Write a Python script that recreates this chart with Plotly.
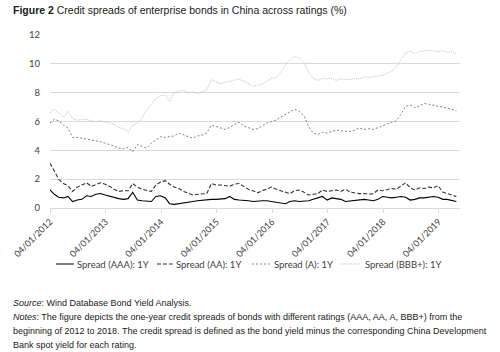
import plotly.graph_objects as go
import pandas as pd

# Monthly observations, Jan 2012 - May 2019 (first point 4 Jan 2012)
dates = ["2012-01-04"] + [d.strftime("%Y-%m-%d") for d in pd.date_range("2012-02-01", periods=88, freq="MS")]

spread_aaa = [
    1.25, 0.95, 0.75, 0.7, 0.8, 0.45, 0.55, 0.6, 0.85, 0.8, 0.95, 1.0,
    0.9, 0.8, 0.7, 0.65, 0.6, 0.65, 1.1, 0.55, 0.5, 0.5, 0.45, 0.8,
    0.85, 0.7, 0.3, 0.25, 0.3, 0.4, 0.4, 0.45, 0.5, 0.55, 0.55, 0.6,
    0.6, 0.6, 0.65, 0.8, 0.6, 0.55, 0.55, 0.5, 0.45, 0.5, 0.5, 0.5,
    0.45, 0.4, 0.35, 0.3, 0.45, 0.5, 0.45, 0.45, 0.5, 0.6, 0.7, 0.8,
    0.55, 0.7, 0.65, 0.6, 0.45, 0.5, 0.55, 0.6, 0.6, 0.55, 0.5, 0.6,
    0.8, 0.75, 0.7, 0.75, 0.8, 0.75, 0.55, 0.6, 0.7, 0.7, 0.75, 0.8,
    0.75, 0.6, 0.6, 0.5, 0.45,
]
spread_aa = [
    3.1, 2.6, 2.0, 1.7, 1.55, 1.15, 1.45, 1.6, 1.75, 1.5, 1.6, 1.75,
    1.65, 1.5, 1.3, 1.15, 1.2, 1.2, 1.7, 1.45, 1.3, 1.25, 1.15, 1.6,
    1.8, 1.9, 1.65, 1.45, 1.35, 1.15, 1.05, 0.9, 0.95, 1.0, 1.0, 1.7,
    1.6, 1.6, 1.55, 1.5, 1.65, 1.7, 1.5, 1.3, 1.2, 1.05, 1.2, 1.35,
    1.45, 1.3, 1.2, 1.05, 1.0, 1.2, 1.25, 1.1, 0.9, 0.95, 1.0, 1.25,
    1.15, 1.2, 1.25, 1.15, 1.3, 1.1, 1.05, 1.0, 1.0, 0.95, 1.0, 1.25,
    1.2, 1.3, 1.35, 1.3, 1.5, 1.75, 1.4, 1.25, 1.4, 1.35, 1.45, 1.4,
    1.55, 1.1, 1.0, 0.9, 0.8,
]
spread_a = [
    5.9, 6.15, 6.05, 5.75, 5.55, 4.9, 4.9, 4.85, 4.8, 4.7, 4.65, 4.6,
    4.5, 4.4, 4.3, 4.15, 4.1, 4.2, 3.9, 4.4, 4.3, 4.15, 4.5, 4.7,
    4.95, 4.9, 4.95, 5.0, 5.2, 5.05, 4.95, 4.85, 5.0, 5.05, 5.2, 5.75,
    5.65, 5.5, 5.45, 5.6, 5.75, 5.95, 5.7, 5.55, 5.45, 5.5, 5.7, 5.9,
    6.0, 6.1, 6.3, 6.5, 6.65, 6.85, 6.7, 6.4, 5.65, 5.2, 5.1, 5.25,
    5.2, 5.3, 5.4, 5.35, 5.3, 5.3, 5.4, 5.55, 5.45, 5.5, 5.45, 5.6,
    5.7, 5.85, 5.95, 6.05, 6.5, 7.05, 7.15, 6.95, 7.1, 7.25, 7.2, 7.1,
    7.05, 7.0, 6.95, 6.85, 6.75,
]
spread_bbb = [
    6.6, 6.85, 6.6, 6.3, 6.7, 6.2, 6.1, 6.1, 6.15, 6.05, 6.0, 6.05,
    5.95, 5.9, 5.8, 5.6, 5.5, 5.3, 5.7, 5.9, 6.25, 6.8, 7.2, 7.6,
    7.8, 7.85, 7.4, 8.0, 8.1, 8.15, 8.0, 8.05, 7.95, 8.1, 8.2, 8.9,
    8.75, 8.6, 8.7, 8.8, 8.85, 8.95, 8.8, 8.6, 8.45, 8.5, 8.6, 8.8,
    9.0, 9.05, 9.4, 9.9, 10.3, 10.5, 10.4, 10.1, 9.4, 9.0, 8.85, 9.0,
    8.95, 9.0, 8.85, 8.95, 8.9, 8.9, 9.0, 8.95, 9.1, 9.05, 9.1, 9.15,
    9.2, 9.35, 9.5, 9.8, 10.3, 10.75, 10.9, 10.7, 10.85, 10.9, 10.95, 10.9,
    10.85, 10.9, 10.8, 10.85, 10.7,
]

series_names = ["Spread (AAA): 1Y", "Spread (AA): 1Y", "Spread (A): 1Y", "Spread (BBB+): 1Y"]
tick_years = [2012, 2013, 2014, 2015, 2016, 2017, 2018, 2019]
tick_vals = [f"{y}-01-04" for y in tick_years]
tick_text = [f"04/01/{y}" for y in tick_years]
y_ticks = [0, 2, 4, 6, 8, 10, 12]

styles = [
    dict(color="#000000", dash="solid", width=1.1),
    dict(color="#333333", dash="4px,2px", width=1.1),
    dict(color="#7f7f7f", dash="2px,2px", width=1),
    dict(color="#c0c0c0", dash="1px,1px", width=1),
]
all_series = [spread_aaa, spread_aa, spread_a, spread_bbb]

fig = go.Figure()
# draw BBB+ first so darker lines sit on top
for i in [3, 2, 1, 0]:
    fig.add_trace(go.Scatter(
        x=dates, y=all_series[i], mode="lines", name=series_names[i],
        line=dict(color=styles[i]["color"], dash=styles[i]["dash"], width=styles[i]["width"]),
        showlegend=False,
    ))

# manual legend
L, R, T, B = 46, 40, 35, 144
W, H = 500 - L - R, 352 - T - B
def px(x):
    return (x - L) / W
def py(y):
    return (352 - B - y) / H

legend_pos = [(52, 70, 71), (154, 170, 171), (250, 268, 270), (340, 360, 362)]
shapes = []
annotations = []
for i, (x0, x1, xt) in enumerate(legend_pos):
    shapes.append(dict(type="line", xref="paper", yref="paper",
                       x0=px(x0), x1=px(x1), y0=py(264), y1=py(264),
                       line=dict(color=styles[i]["color"], dash=styles[i]["dash"], width=1)))
    annotations.append(dict(text=series_names[i], xref="paper", yref="paper",
                            x=px(xt), y=py(264), xanchor="left", yanchor="middle",
                            showarrow=False, font=dict(family="Lato", size=9.5, color="#404040")))

annotations.append(dict(
    text="<b>Figure 2</b> Credit spreads of enterprise bonds in China across ratings (%)",
    xref="paper", yref="paper", x=px(7), y=py(10), xanchor="left", yanchor="middle",
    showarrow=False, font=dict(family="Liberation Sans", size=10.5, color="#1a1a1a")))

notes = [
    (303, "<i>Source</i>: Wind Database Bond Yield Analysis."),
    (317, "<i>Notes</i>: The figure depicts the one-year credit spreads of bonds with different ratings (AAA, AA, A, BBB+) from the"),
    (331, "beginning of 2012 to 2018. The credit spread is defined as the bond yield minus the corresponding China Development"),
    (345, "Bank spot yield for each rating."),
]
for yy, txt in notes:
    annotations.append(dict(text=txt, xref="paper", yref="paper", x=px(7), y=py(yy),
                            xanchor="left", yanchor="middle", showarrow=False,
                            font=dict(family="Liberation Sans", size=9, color="#1a1a1a")))

fig.update_layout(
    width=500, height=352,
    margin=dict(l=L, r=R, t=T, b=B),
    paper_bgcolor="white", plot_bgcolor="white",
    showlegend=False,
    shapes=shapes, annotations=annotations,
    xaxis=dict(type="date", range=["2012-01-04", "2019-05-25"],
               tickvals=tick_vals, ticktext=tick_text, tickangle=-45,
               showgrid=False, showline=True, linecolor="#d9d9d9", linewidth=1,
               ticks="outside", ticklen=4, tickcolor="#d9d9d9",
               tickfont=dict(family="Lato", size=9, color="#404040"), zeroline=False),
    yaxis=dict(range=[0, 12], tickvals=y_ticks, showgrid=True, gridcolor="#d9d9d9",
               gridwidth=1, zeroline=False, showline=False,
               ticks="outside", ticklen=7, tickcolor="rgba(0,0,0,0)",
               tickfont=dict(family="Lato", size=9.5, color="#404040")),
)

fig.write_html("out.html")
